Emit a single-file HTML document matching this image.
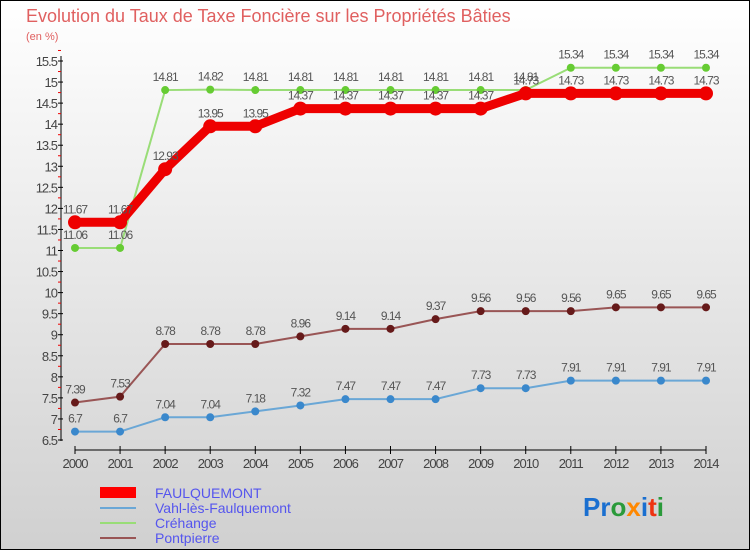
<!DOCTYPE html>
<html><head><meta charset="utf-8"><style>
body{margin:0;}
#c{position:relative;width:750px;height:550px;overflow:hidden;}
svg text{font-family:"Liberation Sans",sans-serif;}
</style></head><body>
<div id="c">
<svg id="s" width="750" height="550" xmlns="http://www.w3.org/2000/svg">
<defs><linearGradient id="bg" x1="0" y1="0" x2="0" y2="1"><stop offset="0" stop-color="#ffffff"/><stop offset="1" stop-color="#d0d0d0"/></linearGradient></defs>
<rect x="0.5" y="0.5" width="749" height="549" fill="url(#bg)" stroke="#000"/>
<text x="26" y="22" font-size="18" fill="#e06060">Evolution du Taux de Taxe Foncière sur les Propriétés Bâties</text>
<text x="26" y="40" font-size="11" fill="#e06060">(en %)</text>
<g id="axes"></g><g id="series"></g>
<g>
<rect x="100" y="487" width="36" height="11" fill="#ff0000"/>
<text x="155" y="498" font-size="14" fill="#5555ee">FAULQUEMONT</text>
<rect x="100" y="507" width="36" height="2" fill="#6aa7d6"/>
<text x="155" y="513" font-size="14" fill="#5555ee">Vahl-lès-Faulquemont</text>
<rect x="100" y="522" width="36" height="2" fill="#99dd77"/>
<text x="155" y="528" font-size="14" fill="#5555ee">Créhange</text>
<rect x="100" y="537" width="36" height="2" fill="#995555"/>
<text x="155" y="543" font-size="14" fill="#5555ee">Pontpierre</text>
</g>
<text x="583" y="516" font-size="26" font-weight="bold"><tspan fill="#1a6fd0">Pr</tspan><tspan fill="#2a9a3a">o</tspan><tspan fill="#ff8800">x</tspan><tspan fill="#1a6fd0">i</tspan><tspan fill="#ee3311">t</tspan><tspan fill="#2a9a3a">i</tspan></text>
</svg></div>
<script>
const years=[2000,2001,2002,2003,2004,2005,2006,2007,2008,2009,2010,2011,2012,2013,2014];
const faulquemont=[11.67,11.67,12.93,13.95,13.95,14.37,14.37,14.37,14.37,14.37,14.73,14.73,14.73,14.73,14.73];
const vahl=[6.7,6.7,7.04,7.04,7.18,7.32,7.47,7.47,7.47,7.73,7.73,7.91,7.91,7.91,7.91];
const crehange=[11.06,11.06,14.81,14.82,14.81,14.81,14.81,14.81,14.81,14.81,14.81,15.34,15.34,15.34,15.34];
const pontpierre=[7.39,7.53,8.78,8.78,8.78,8.96,9.14,9.14,9.37,9.56,9.56,9.56,9.65,9.65,9.65];
const yTicks=[6.5,7,7.5,8,8.5,9,9.5,10,10.5,11,11.5,12,12.5,13,13.5,14,14.5,15,15.5];
const NS="http://www.w3.org/2000/svg";
const x=i=>75+i*(706-75)/(years.length-1);
const y=v=>440-(v-6.5)*(440-61)/9;
function mk(t,a,p){const e=document.createElementNS(NS,t);for(const k in a)e.setAttribute(k,a[k]);p.appendChild(e);return e;}
const ax=document.getElementById('axes');
const yl=mk('line',{x1:61,y1:56,x2:61,y2:441,stroke:'#000'},ax);


yTicks.forEach(v=>{
 mk('line',{x1:58,x2:63,y1:y(v),y2:y(v),stroke:'#000'},ax);
 mk('line',{x1:58,x2:61,y1:y(v+0.25),y2:y(v+0.25),stroke:'#e00'},ax);
 const t=mk('text',{x:57,y:y(v)+5,'font-size':13,'text-anchor':'end',fill:'#444','letter-spacing':'-1'},ax);
 t.textContent=v;
 
 
});
const xl=mk('line',{x1:75,y1:450,x2:706,y2:450,stroke:'#000'},ax);


years.forEach((yr,i)=>{
 mk('line',{x1:x(i),x2:x(i),y1:446,y2:454,stroke:'#000'},ax);
 const t=mk('text',{x:x(i),y:468,'font-size':13,'text-anchor':'middle',fill:'#444','letter-spacing':'-1'},ax);
 t.textContent=yr;
 
 
});
const sg=document.getElementById('series');
function draw(vals,color,dot,w,r,name){
 const g=mk('g',{},sg);
 
 
 const l=mk('polyline',{points:vals.map((v,i)=>x(i)+','+y(v)).join(' '),fill:'none',stroke:color,'stroke-width':w},g);
 
 
 vals.forEach((v,i)=>{
  const c=mk('circle',{cx:x(i),cy:y(v),r:r,fill:dot},g);
  
  
  const t=mk('text',{x:x(i),y:y(v)-9,'font-size':12,'text-anchor':'middle',fill:'#555','letter-spacing':'-1'},g);
  t.textContent=v;
  
  
 });
}
draw(vahl,'#6aa7d6','#3a88cc',2,4,'vahl');
draw(pontpierre,'#995555','#661a1a',2,4,'pontpierre');
draw(crehange,'#99dd77','#66cc33',2,4,'crehange');
draw(faulquemont,'#ee0000','#ee0000',9,7,'faulquemont');
</script>
</body></html>
